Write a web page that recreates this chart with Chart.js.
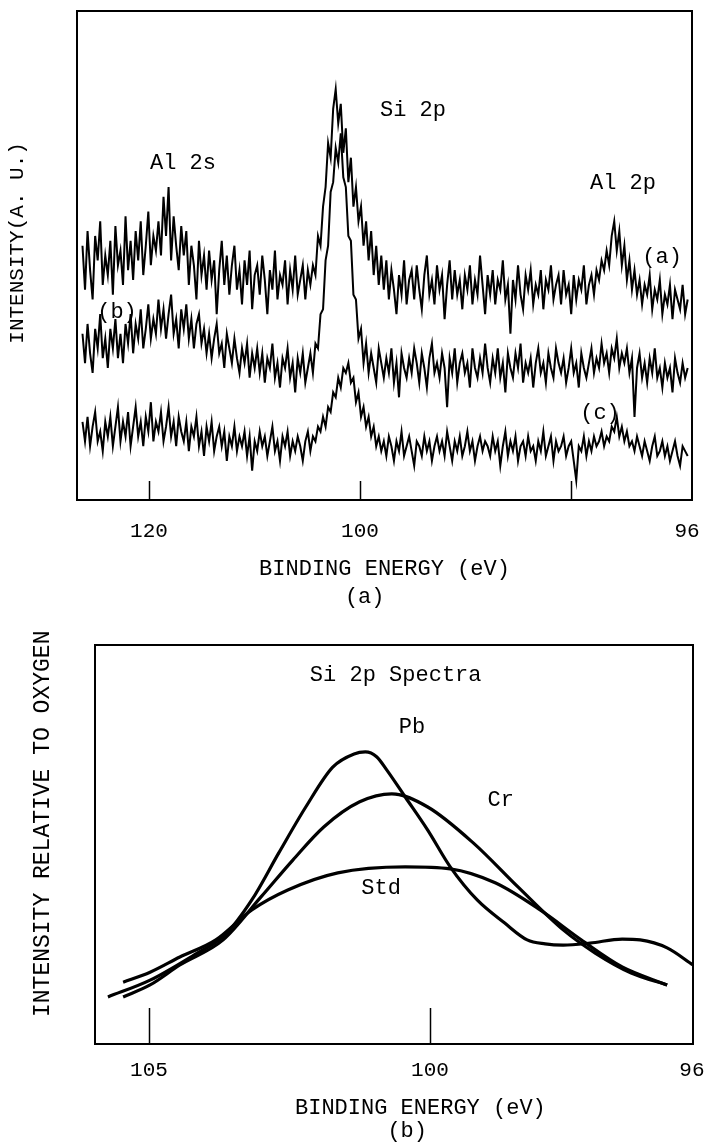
<!DOCTYPE html>
<html><head><meta charset="utf-8">
<script src="https://cdn.jsdelivr.net/npm/chart.js@4.4.1/dist/chart.umd.min.js"></script>
<style>
html,body{margin:0;padding:0;background:#fff;}
#wrapA{position:absolute;left:0;top:0;width:706px;height:615px;}
#wrapB{position:absolute;left:0;top:615px;width:706px;height:528px;}
canvas{display:block;}
</style></head><body>
<div id="wrapA"><canvas id="chartA" width="706" height="615"></canvas></div>
<div id="wrapB"><canvas id="chartB" width="706" height="528"></canvas></div>
<script>
// ---------- Panel (a): XPS survey, three samples ----------
const scanStartEV = 126.3;   // first channel energy (eV)
const scanStepEV = 0.24;     // channel spacing (eV)
const spectrumA = [
  52,43,55,47,41,54,49,57,44,50,
  46,53,42,56,48,51,44,58,47,53,
  45,55,49,57,46,52,59,48,54,51,
  57,50,62,54,64,49,58,52,47,56,
  50,55,44,52,48,41,53,46,50,43,
  51,45,49,38,47,53,44,50,42,48,
  52,43,47,40,49,44,51,39,46,48,
  42,50,45,38,47,43,51,41,46,44,
  49,40,47,43,50,42,45,48,41,47,
  44,48,46,54,52,60,64,73,70,80,
  84,77,81,71,76,65,70,60,64,57,
  60,52,57,49,55,46,52,44,50,43,
  49,41,47,43,38,46,42,49,40,45,
  47,41,48,43,39,46,50,42,45,40,
  48,43,46,37,44,49,41,47,42,45,
  39,46,43,48,40,45,42,50,44,38,
  46,42,47,40,45,43,49,41,44,34,
  45,41,48,42,39,46,43,47,40,44,
  42,47,39,45,43,48,41,44,46,40,
  47,42,44,38,46,41,45,43,48,40,
  44,46,42,47,45,49,47,51,48,54,
  57,51,55,48,52,45,49,43,47,42,
  45,40,44,42,46,39,43,41,45,38,
  42,40,44,37,43,41,39,44,38,41
];
const spectrumB = [
  34,28,36,30,26,35,31,38,29,33,
  27,35,31,37,29,34,28,36,32,38,
  30,36,33,39,31,35,40,33,37,34,
  41,35,39,33,38,42,34,37,31,39,
  35,40,33,37,31,36,38,32,35,30,
  34,29,33,36,30,32,27,34,31,28,
  33,29,26,31,28,32,25,30,27,31,
  26,30,24,29,27,32,25,28,23,29,
  27,31,25,28,22,29,26,30,24,27,
  30,26,32,31,38,39,49,52,63,65,
  72,69,75,66,64,54,53,42,41,33,
  35,28,32,26,30,27,24,31,28,25,
  29,26,31,24,28,21,30,27,25,29,
  26,31,28,24,30,27,23,29,32,26,
  28,25,30,27,19,29,26,31,24,28,
  30,26,28,23,31,27,25,29,26,32,
  27,24,29,26,31,25,28,22,30,27,
  25,30,27,32,24,28,26,29,23,28,
  31,26,28,24,30,27,25,31,28,26,
  29,24,27,31,26,28,23,30,27,25,
  28,31,26,29,27,32,28,30,26,31,
  29,33,27,30,28,31,26,29,17,27,
  30,25,28,24,29,26,31,25,27,23,
  28,25,27,22,29,26,24,28,25,27
];
const spectrumC = [
  16,12,17,11,15,18,12,14,10,16,
  13,17,11,15,19,12,16,13,18,11,
  15,19,13,16,11,17,14,20,12,16,
  14,18,12,15,19,13,16,11,17,14,
  12,16,10,15,13,17,11,14,9,15,
  12,16,10,13,15,11,14,8,13,11,
  15,10,13,11,14,9,13,6,12,10,
  14,11,13,9,12,15,10,12,8,13,
  11,14,9,12,10,13,11,8,12,14,
  10,13,12,15,14,17,15,19,18,22,
  21,25,23,27,26,28,24,25,20,22,
  17,19,15,17,13,15,11,13,10,12,
  9,13,11,8,12,10,14,9,11,13,
  10,7,12,11,9,13,10,12,8,11,
  13,10,12,9,14,11,8,12,10,13,
  9,11,14,10,12,8,11,13,10,12,
  11,9,13,10,12,7,11,14,9,12,
  10,13,8,11,12,9,13,10,11,8,
  12,10,14,9,11,13,8,12,10,11,
  13,9,11,12,8,4,11,10,13,9,
  12,10,13,11,12,14,11,13,12,15,
  14,17,13,15,12,14,11,12,10,13,
  11,9,12,10,8,11,13,9,10,12,
  9,11,8,10,12,9,7,11,10,9
];
const topTickValues = [120, 100, 80, 69.0];
const topTickLabels = ['120', '100', '', '96'];
const topTickMarks = [120, 100, 80];
const topLabels = [
  {text: 'Al 2s', ev: 116.78, v: 68.9},
  {text: 'Si 2p', ev: 94.98, v: 79.8},
  {text: 'Al 2p', ev: 75.07, v: 64.8},
  {text: '(a)', ev: 71.37, v: 49.7},
  {text: '(b)', ev: 123.03, v: 38.4},
  {text: '(c)', ev: 77.25, v: 17.8}
];

// ---------- Panel (b): Si 2p spectra ----------
const pbEnergy = [105.73,104.98,104.20,103.65,103.17,102.69,102.21,101.73,101.35,101.15,100.95,100.77,100.44,100.04,99.64,99.16,98.67,98.27,97.95,97.63,97.15,96.58,96.26,95.78,95.32];
const pbIntensity = [11.8,16.0,22.3,27.3,36.1,47.9,59.4,69.4,72.7,73.2,72.0,68.7,61.9,53.6,44.4,36.1,30.3,26.1,25.1,24.8,25.3,26.3,26.1,24.1,19.8];
const crEnergy = [105.46,104.98,104.45,103.68,103.01,102.44,101.89,101.25,100.68,100.04,99.23,98.43,97.63,97.06,96.42,95.78];
const crIntensity = [11.8,14.8,19.8,26.1,36.8,46.1,54.4,60.7,62.7,59.4,50.4,39.3,28.6,22.8,17.8,14.8];
const stdEnergy = [105.46,104.98,104.45,103.81,103.17,102.53,101.64,100.44,99.64,98.84,98.04,97.31,96.58,95.78];
const stdIntensity = [15.5,18.0,21.8,26.1,33.6,38.6,42.9,44.4,43.9,40.4,33.6,26.1,19.3,14.8];
const botTickValues = [105, 100, 95.34];
const botTickLabels = ['105', '100', '96'];
const botTickMarks = [105, 100];
const botLabels = [
  {text: 'Si 2p Spectra', ev: 100.61, v: 92.5},
  {text: 'Pb', ev: 100.32, v: 79.4},
  {text: 'Cr', ev: 98.74, v: 61.2},
  {text: 'Std', ev: 100.87, v: 39.1}
];

// ---------- helpers ----------
const FONT = "'Liberation Mono', 'DejaVu Sans Mono', monospace";

const innerTicks = {
  id: 'innerTicks',
  afterDatasetsDraw(chart, args, opts) {
    const {ctx, chartArea, scales} = chart;
    ctx.save();
    ctx.strokeStyle = '#000';
    ctx.lineWidth = opts.width;
    opts.values.forEach(v => {
      const px = Math.round(scales.x.getPixelForValue(v)) + 0.5;
      ctx.beginPath();
      ctx.moveTo(px, chartArea.bottom);
      ctx.lineTo(px, chartArea.bottom - opts.length);
      ctx.stroke();
    });
    ctx.restore();
  }
};
const textLabels = {
  id: 'textLabels',
  afterDatasetsDraw(chart, args, opts) {
    const {ctx, scales} = chart;
    ctx.save();
    ctx.font = opts.font;
    ctx.fillStyle = '#000';
    ctx.textAlign = 'center';
    ctx.textBaseline = 'middle';
    opts.items.forEach(it => ctx.fillText(it.text, scales.x.getPixelForValue(it.ev), scales.y.getPixelForValue(it.v)));
    ctx.restore();
  }
};

function spectrumPoints(arr) {
  return arr.map((v, i) => ({x: scanStartEV - i * scanStepEV, y: v}));
}
function pairPoints(xs, ys) {
  return xs.map((x, i) => ({x: x, y: ys[i]}));
}
function noPad(s) { s.paddingLeft = 0; s.paddingRight = 0; s.paddingTop = 0; s.paddingBottom = 0; }
function frameAxis(pos) {
  return {
    type: 'linear', position: pos, min: 0, max: 1, display: true,
    ticks: {display: false}, grid: {display: false, drawTicks: false},
    border: {display: true, color: '#000', width: 2},
    afterFit: s => { if (pos === 'top') s.height = 0; else s.width = 0; noPad(s); }
  };
}

// ---------- chart (a) ----------
new Chart(document.getElementById('chartA'), {
  type: 'line',
  data: {
    datasets: [spectrumA, spectrumB, spectrumC].map(arr => ({
      data: spectrumPoints(arr),
      borderColor: '#000', borderWidth: 2, pointRadius: 0, tension: 0, fill: false
    }))
  },
  options: {
    responsive: false, animation: false, events: [],
    layout: {padding: {top: 11, right: 14, bottom: 0, left: 0}},
    plugins: {
      legend: {display: false}, tooltip: {enabled: false},
      innerTicks: {values: topTickMarks, length: 19, width: 1.5},
      textLabels: {items: topLabels, font: '22px ' + FONT}
    },
    scales: {
      x: {
        type: 'linear', reverse: true, min: 68.53, max: 126.82, bounds: 'data',
        afterBuildTicks: s => { s.ticks = topTickValues.map(v => ({value: v})); },
        ticks: {callback: (val, i) => topTickLabels[i], font: {family: FONT, size: 21}, color: '#000', padding: 19, maxRotation: 0, autoSkip: false},
        grid: {display: false, drawTicks: false},
        border: {display: true, color: '#000', width: 2},
        title: {display: true, text: ['BINDING ENERGY (eV)', '(a)   '], color: '#000',
                font: {family: FONT, size: 22, lineHeight: 28 / 22}, padding: {top: 0, bottom: 4}},
        afterFit: s => { s.height = 115; noPad(s); }
      },
      y: {
        type: 'linear', min: 0, max: 100,
        ticks: {display: false}, grid: {display: false, drawTicks: false},
        border: {display: true, color: '#000', width: 2},
        title: {display: true, text: '  INTENSITY(A. U.)', color: '#000',
                font: {family: FONT, size: 21}, padding: {top: 5, bottom: 0}},
        afterFit: s => { s.width = 77; noPad(s); }
      },
      xTop: frameAxis('top'),
      yRight: frameAxis('right')
    }
  },
  plugins: [innerTicks, textLabels]
});

// ---------- chart (b) ----------
new Chart(document.getElementById('chartB'), {
  type: 'line',
  data: {
    datasets: [
      {label: 'Pb', data: pairPoints(pbEnergy, pbIntensity)},
      {label: 'Cr', data: pairPoints(crEnergy, crIntensity)},
      {label: 'Std', data: pairPoints(stdEnergy, stdIntensity)}
    ].map(d => Object.assign(d, {borderColor: '#000', borderWidth: 3.2, pointRadius: 0, cubicInterpolationMode: 'monotone', fill: false}))
  },
  options: {
    responsive: false, animation: false, events: [],
    layout: {padding: {top: 30, right: 13, bottom: 0, left: 0}},
    plugins: {
      legend: {display: false}, tooltip: {enabled: false},
      innerTicks: {values: botTickMarks, length: 36, width: 1.5},
      textLabels: {items: botLabels, font: '22px ' + FONT}
    },
    scales: {
      x: {
        type: 'linear', reverse: true, min: 95.32, max: 105.96, bounds: 'data',
        afterBuildTicks: s => { s.ticks = botTickValues.map(v => ({value: v})); },
        ticks: {callback: (val, i) => botTickLabels[i], font: {family: FONT, size: 21}, color: '#000', padding: 14, maxRotation: 0, autoSkip: false},
        grid: {display: false, drawTicks: false},
        border: {display: true, color: '#000', width: 2},
        title: {display: true, text: ['    BINDING ENERGY (eV)', '  (b)'], color: '#000',
                font: {family: FONT, size: 22, lineHeight: 23 / 22}, padding: {top: 0, bottom: 0}},
        afterFit: s => { s.height = 99; noPad(s); }
      },
      y: {
        type: 'linear', min: 0, max: 100,
        ticks: {display: false}, grid: {display: false, drawTicks: false},
        border: {display: true, color: '#000', width: 2},
        title: {display: true, text: '   INTENSITY RELATIVE TO OXYGEN', color: '#000',
                font: {family: FONT, size: 23}, padding: {top: 29, bottom: 0}},
        afterFit: s => { s.width = 95; noPad(s); }
      },
      xTop: frameAxis('top'),
      yRight: frameAxis('right')
    }
  },
  plugins: [innerTicks, textLabels]
});
</script>
</body></html>
